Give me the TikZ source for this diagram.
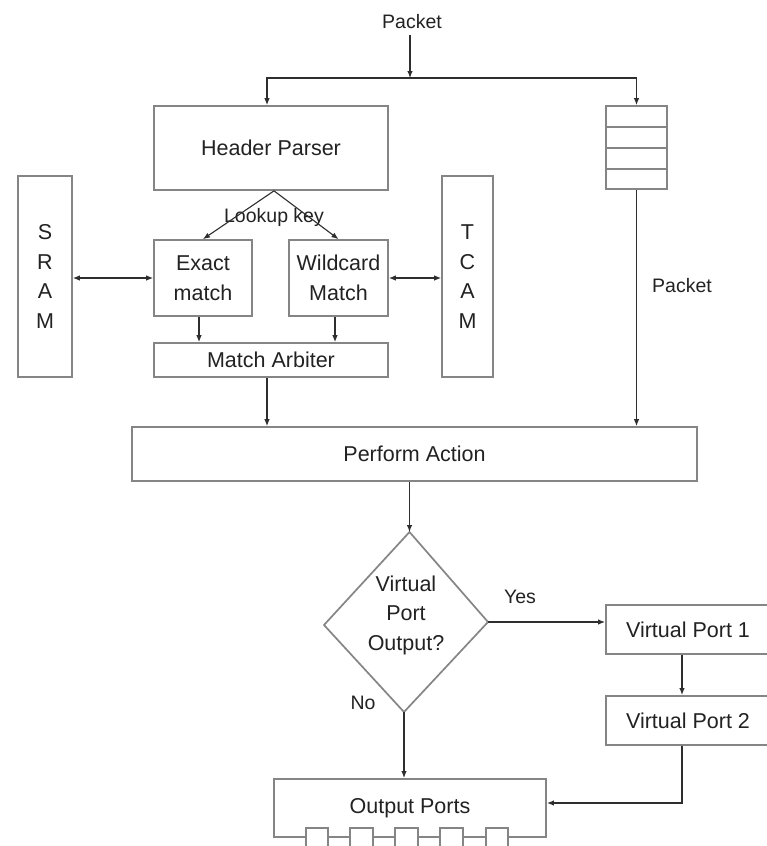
\documentclass[tikz,border=0pt]{standalone}
\usepackage{fontspec}
\setmainfont{Liberation Sans}
\usetikzlibrary{arrows.meta,calc}
\definecolor{boxc}{HTML}{858585}
\definecolor{linec}{HTML}{2E2E2E}
\definecolor{txtc}{HTML}{222222}
\tikzset{
  box/.style={draw=boxc,line width=1.7pt,rectangle,inner sep=0pt,text=txtc,
    font=\fontsize{21.5}{29.5}\selectfont,align=center},
  lbl/.style={text=txtc,inner sep=0pt,font=\fontsize{19.5}{24}\selectfont},
  arr/.style={draw=linec,line width=1.1pt,-{Latex[length=7pt,width=5.5pt]}},
  arrb/.style={draw=linec,line width=1.1pt,{Latex[length=7pt,width=5.5pt]}-{Latex[length=7pt,width=5.5pt]}},
  arrt/.style={draw=linec,line width=1.8pt,-{Latex[length=7pt,width=5.5pt]}},
  portsq/.style={draw=boxc,line width=1.5pt,fill=white}
}
\begin{document}
\begin{tikzpicture}[x=1pt,y=-1pt]
\useasboundingbox (0,0) rectangle (767,846);
\fill[white] (0,0) rectangle (767,846);

% nodes
\node[lbl] (pkt) at (412,22) {Packet};
\coordinate (split) at (410,78);
\node[box,minimum width=234,minimum height=84] (hp) at (271,148) {Header Parser};
\node[box,minimum width=61,minimum height=83] (queue) at (636.5,147.5) {};
\draw[boxc,line width=1.7pt] (606,127) -- (667,127) (606,148) -- (667,148) (606,169) -- (667,169);
\node[box,minimum width=54,minimum height=201] (sram) at (45,276.5) {S\\R\\A\\M};
\node[box,minimum width=51,minimum height=201] (tcam) at (467.5,276.5) {T\\C\\A\\M};
\node[box,minimum width=98,minimum height=76] (exact) at (203,278) {Exact\\match};
\node[box,minimum width=99,minimum height=76] (wild) at (338.5,278) {Wildcard\\Match};
\node[box,minimum width=234,minimum height=34] (arb) at (271,360) {Match Arbiter};
\node[lbl] (lk) at (274,217) {Lookup key};
\node[box,minimum width=565,minimum height=54] (pa) at (414.5,454) {Perform Action};
\node[lbl] (pkt2) at (682,286) {Packet};

% diamond
\coordinate (dtop) at (409.5,532);
\coordinate (dleft) at (324,625);
\coordinate (dright) at (488,622);
\coordinate (dbot) at (404,712);
\draw[boxc,line width=1.7pt] (dtop) -- (dright) -- (dbot) -- (dleft) -- cycle;
\node[box,draw=none] (dq) at (406,615) {Virtual\\Port\\Output?};
\node[lbl] (yes) at (520,597) {Yes};
\node[lbl] (no) at (363,703) {No};

\node[box,minimum width=164,minimum height=49] (vp1) at (688,629.5) {Virtual Port 1};
\node[box,minimum width=164,minimum height=49] (vp2) at (688,720.5) {Virtual Port 2};
\node[box,minimum width=272,minimum height=58] (op) at (410,808) {Output Ports};
\foreach \a/\b in {306/328,350/373,395/418,440/463,486/508}{
  \draw[portsq] (\a,850) rectangle (\b,828);
}

% connectors
\draw[arr] ([yshift=-6pt]pkt.south -| split) -- (split);
\draw[arr] (split) -| ([xshift=-4pt]hp.north);
\draw[arr] (split) -| (queue.north);
\draw[arr] (queue.south) -- (queue.south |- pa.north);
\draw[arr] ([xshift=3pt]hp.south) -- (exact.north);
\draw[arr] ([xshift=3pt]hp.south) -- (wild.north);
\draw[arrb] (exact.west -| sram.east) -- (exact.west);
\draw[arrb] (wild.east) -- (wild.east -| tcam.west);
\draw[arr] ([xshift=-4pt]exact.south) -- ([xshift=-4pt]exact.south |- arb.north);
\draw[arr] ([xshift=-3.5pt]wild.south) -- ([xshift=-3.5pt]wild.south |- arb.north);
\draw[arr] ([xshift=-4pt]arb.south) -- ([xshift=-4pt]arb.south |- pa.north);
\draw[arr] (dtop |- pa.south) -- (dtop);
\draw[arrt] (dright) -- (dright -| vp1.west);
\draw[arrt] (dbot) -- (dbot |- op.north);
\draw[arrt] ([xshift=-6pt]vp1.south) -- ([xshift=-6pt]vp2.north);
\draw[arrt] ([xshift=-6pt]vp2.south) |- ([yshift=5pt]op.east);
\end{tikzpicture}
\end{document}
